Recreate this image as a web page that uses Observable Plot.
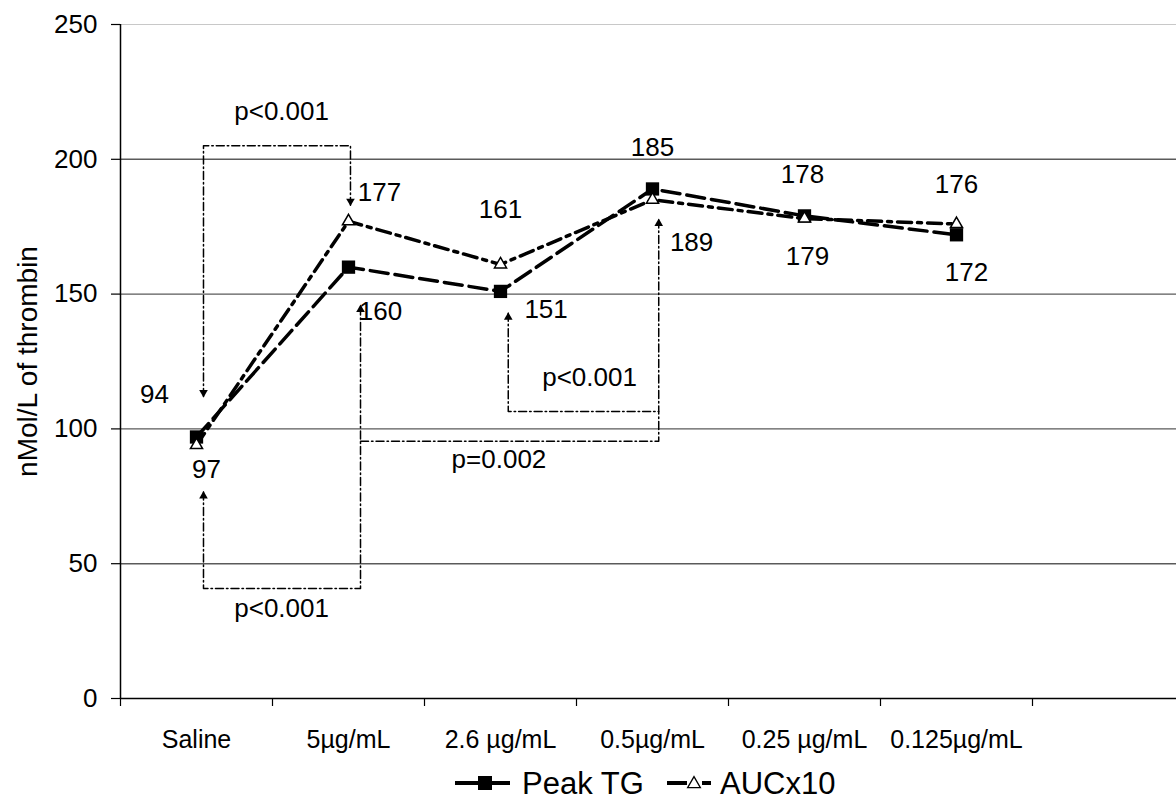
<!DOCTYPE html>
<html><head><meta charset="utf-8">
<script src="https://cdn.jsdelivr.net/npm/d3@7"></script>
<script src="https://cdn.jsdelivr.net/npm/@observablehq/plot@0.6"></script>
<style>
body{margin:0;background:#fff;font-family:"Liberation Sans",Arial,sans-serif}
#wrap{position:relative;width:1176px;height:808px;overflow:hidden}
#legend{position:absolute;left:0;top:760px}
</style>
</head><body><div id="wrap"><div id="chart"></div><div id="legend"></div></div>
<script>
// ---- data ----
const categories = ["Saline", "5µg/mL", "2.6 µg/mL", "0.5µg/mL", "0.25 µg/mL", "0.125µg/mL"];
const peakTG = [97, 160, 151, 189, 179, 172];
const aucX10 = [94, 177, 161, 185, 178, 176];
const yTicks = [0, 50, 100, 150, 200, 250];
const yLabel = "nMol/L of thrombin";
const seriesNames = ["Peak TG", "AUCx10"];

// value-label anchors (x in category-slot units, y in data units)
const peakLabelX = [0.566, 1.71, 2.80, 3.757, 4.52, 5.566];
const peakLabelY = [84.9, 143.4, 144.3, 169.1, 164, 158];
const aucLabelX = [0.224, 1.704, 2.5, 3.5, 4.487, 5.5];
const aucLabelY = [112.8, 187.5, 181.4, 204.4, 194.4, 190.7];

// significance brackets (polylines in x-slot / data units)
const bracketA = [[0.546, 112], [0.546, 205], [1.513, 205], [1.513, 183]];
const bracketB = [[0.546, 76.6], [0.546, 40.8], [1.579, 40.8], [1.579, 145.8]];
const bracketC = [[1.579, 95.4], [3.541, 95.4], [3.541, 177.7]];
const bracketD = [[2.551, 142.9], [2.551, 106.5], [3.541, 106.5]];
const arrowsUp = [[0.546, 76.6], [1.579, 145.8], [3.541, 177.7], [2.551, 142.9]];
const arrowsDown = [[0.546, 112], [1.513, 183]];
const pText = ["p<0.001", "p<0.001", "p<0.001", "p=0.002"];
const pX = [1.06, 1.06, 3.086, 2.49];
const pY = [217.7, 33.4, 119, 88.6];

// ---- build rows ----
const peakRows = categories.map((c, i) => ({x: i + 0.5, y: peakTG[i], c}));
const aucRows = categories.map((c, i) => ({x: i + 0.5, y: aucX10[i], c}));
const peakLab = peakTG.map((v, i) => ({x: peakLabelX[i], y: peakLabelY[i], t: String(v)}));
const aucLab = aucX10.map((v, i) => ({x: aucLabelX[i], y: aucLabelY[i], t: String(v)}));
const bracketRows = [bracketA, bracketB, bracketC, bracketD]
  .flatMap((b, k) => b.map(([x, y]) => ({x, y, id: k})));
const upRows = arrowsUp.map(([x, y]) => ({x, y}));
const downRows = arrowsDown.map(([x, y]) => ({x, y}));
const pRows = pText.map((t, i) => ({t, x: pX[i], y: pY[i]}));

const downTriangle = {
  draw(ctx, size) {
    const s = Math.sqrt(size / (Math.sqrt(3) / 4));
    const h = s * Math.sqrt(3) / 2;
    ctx.moveTo(-s / 2, -h / 3);
    ctx.lineTo(s / 2, -h / 3);
    ctx.lineTo(0, 2 * h / 3);
    ctx.closePath();
  }
};

const font = '"Liberation Sans", Arial, sans-serif';
const chart = Plot.plot({
  width: 1176, height: 760,
  marginTop: 24, marginBottom: 62, marginLeft: 120, marginRight: 0,
  style: {fontFamily: font, fontSize: "26px", color: "#000", background: "#fff", overflow: "visible"},
  x: {type: "linear", domain: [0, 7], range: [120, 1184]},
  y: {domain: [0, 250], range: [698, 24]},
  marks: [
    Plot.ruleY(yTicks.filter(d => d > 0 && d < 250), {stroke: "#5a5a5a", strokeWidth: 1.4}),
    Plot.ruleY([250], {stroke: "#c8c8c8", strokeWidth: 1.2}),
    Plot.ruleY([0], {stroke: "#000", strokeWidth: 1.5}),
    Plot.ruleX([0], {y1: 0, y2: 250, stroke: "#000", strokeWidth: 1.5}),
    Plot.axisY({ticks: yTicks, tickSize: 9, tickPadding: 14, label: null, fontSize: 26, strokeWidth: 1.2}),
    Plot.axisX({ticks: d3.range(0, 8), tickSize: 8, tickFormat: () => "", label: null, strokeWidth: 1.2}),
    Plot.axisX({ticks: categories.map((c, i) => i + 0.5), tickSize: 0, tickPadding: 32,
      tickFormat: d => categories[Math.round(d - 0.5)], label: null, fontSize: 25}),
    Plot.text([yLabel], {frameAnchor: "left", textAnchor: "middle", dx: -92, rotate: -90, fontSize: 28, text: d => d}),
    // brackets
    Plot.line(bracketRows, {x: "x", y: "y", z: "id", stroke: "#000", strokeWidth: 1.5, strokeDasharray: "8,3,1.5,3"}),
    Plot.dot(upRows, {x: "x", y: "y", symbol: "triangle", r: 3.2, fill: "#000", dy: 4}),
    Plot.dot(downRows, {x: "x", y: "y", symbol: downTriangle, r: 3.2, fill: "#000", dy: -4}),
    Plot.text(pRows, {x: "x", y: "y", text: "t", fontSize: 26}),
    // series
    Plot.line(peakRows, {x: "x", y: "y", stroke: "#000", strokeWidth: 3.5, strokeDasharray: "18,7"}),
    Plot.line(aucRows, {x: "x", y: "y", stroke: "#000", strokeWidth: 3.5, strokeDasharray: "14,6,4,6"}),
    Plot.dot(peakRows, {x: "x", y: "y", symbol: "square", r: 7.5, fill: "#000"}),
    Plot.dot(aucRows, {x: "x", y: "y", symbol: "triangle", r: 4.5, fill: "#fff", stroke: "#000", strokeWidth: 1.5}),
    Plot.text(peakLab, {x: "x", y: "y", text: "t", fontSize: 26}),
    Plot.text(aucLab, {x: "x", y: "y", text: "t", fontSize: 26})
  ]
});
document.getElementById("chart").appendChild(chart);

// ---- legend ----
const lg = d3.select("#legend").append("svg").attr("width", 1176).attr("height", 48)
  .style("font-family", font);
const cy = 23;
const g1 = lg.append("g");
g1.append("line").attr("x1", 455).attr("x2", 510).attr("y1", cy).attr("y2", cy).attr("stroke", "#000").attr("stroke-width", 4);
g1.append("rect").attr("x", 478).attr("y", cy - 7).attr("width", 14).attr("height", 14).attr("fill", "#000");
g1.append("text").attr("x", 522).attr("y", cy + 11).attr("font-size", 31).text(seriesNames[0]);
const g2 = lg.append("g");
g2.append("line").attr("x1", 667).attr("x2", 687).attr("y1", cy).attr("y2", cy).attr("stroke", "#000").attr("stroke-width", 4);
g2.append("line").attr("x1", 702).attr("x2", 711).attr("y1", cy).attr("y2", cy).attr("stroke", "#000").attr("stroke-width", 4);
g2.append("path").attr("d", d3.symbol(d3.symbolTriangle, 70)()).attr("transform", `translate(694,${cy + 1})`)
  .attr("fill", "#fff").attr("stroke", "#000").attr("stroke-width", 1.3);
g2.append("text").attr("x", 720).attr("y", cy + 11).attr("font-size", 31).text(seriesNames[1]);
</script>
</body></html>
